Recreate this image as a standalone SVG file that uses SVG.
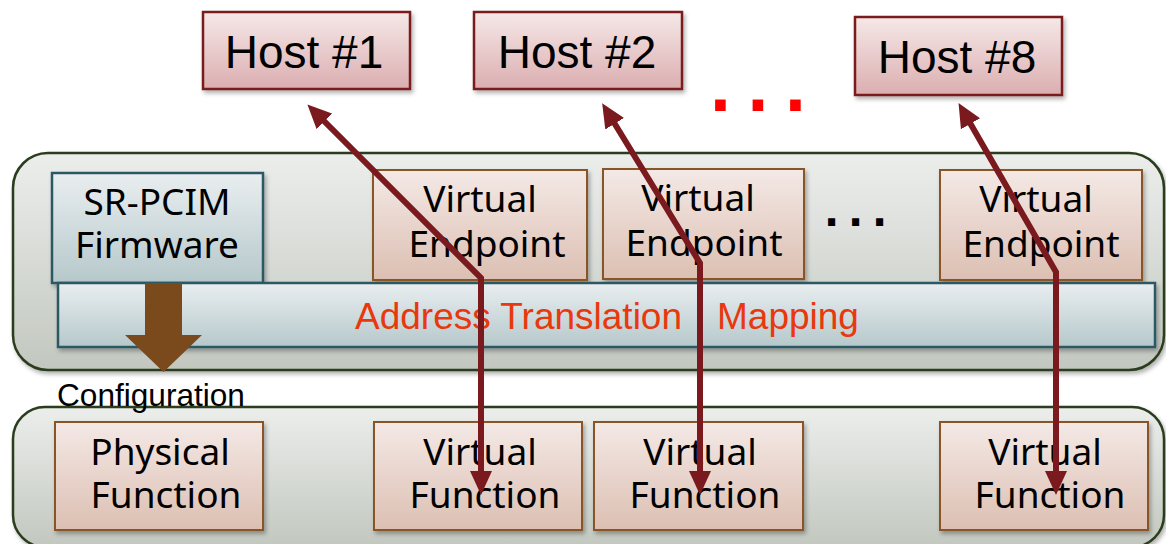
<svg xmlns="http://www.w3.org/2000/svg" width="1166" height="544" viewBox="0 0 1166 544">
<defs>
<linearGradient id="gHost" x1="0" y1="0" x2="0" y2="1"><stop offset="0" stop-color="#f6e8e8"/><stop offset="1" stop-color="#dbaeb0"/></linearGradient>
<linearGradient id="gFn" x1="0" y1="0" x2="0" y2="1"><stop offset="0" stop-color="#f4e9e6"/><stop offset="1" stop-color="#dcbfb2"/></linearGradient>
<linearGradient id="gCont" x1="0" y1="0" x2="0" y2="1"><stop offset="0" stop-color="#eceeec"/><stop offset="1" stop-color="#c2c7bf"/></linearGradient>
<linearGradient id="gBlue" x1="0" y1="0" x2="0" y2="1"><stop offset="0" stop-color="#e9eef0"/><stop offset="1" stop-color="#b6c8cb"/></linearGradient>
<filter id="sh" x="-10%" y="-10%" width="120%" height="130%"><feDropShadow dx="2" dy="3" stdDeviation="2" flood-color="#000" flood-opacity="0.3"/></filter>
<marker id="ah" markerUnits="userSpaceOnUse" markerWidth="24" markerHeight="24" viewBox="0 0 24 24" refX="9" refY="12" orient="auto-start-reverse"><path d="M0,1 L24,12 L0,23 z" fill="#7b1a1e"/></marker>
</defs>
<style>
.host rect{fill:url(#gHost);stroke:#7a1a1e;stroke-width:2.5;filter:url(#sh)}
.host text{font-family:"Liberation Sans",Arial,sans-serif;font-size:46px;fill:#000;text-anchor:middle}
.fn rect{fill:url(#gFn);stroke:#8a5526;stroke-width:2;filter:url(#sh)}
.fn text,.fw text{font-family:"Noto Sans","DejaVu Sans",sans-serif;font-size:37px;fill:#000;text-anchor:middle}
.cont{fill:url(#gCont);stroke:#2b3d1e;stroke-width:2.5;filter:url(#sh)}
.blue{fill:url(#gBlue);stroke:#2c5864;stroke-width:2.5;filter:url(#sh)}
.conn path{fill:none;stroke:#7b1a1e;stroke-width:6;marker-start:url(#ah);marker-end:url(#ah)}
.arial{font-family:"Liberation Sans",Arial,sans-serif}
</style>

<!-- containers -->
<rect class="cont" x="13" y="153" width="1151" height="217" rx="35"/>
<rect class="cont" x="13" y="407" width="1151" height="140" rx="32"/>

<!-- Hosts -->
<g id="host1" class="host"><rect x="203" y="12" width="207" height="77"/><text x="304" y="68">Host #1</text></g>
<g id="host2" class="host"><rect x="474" y="12" width="208" height="77"/><text x="577" y="68">Host #2</text></g>
<g id="host8" class="host"><rect x="855" y="17" width="207" height="78"/><text x="957" y="73">Host #8</text></g>
<text id="dotsRed" x="709" y="111" font-family="DejaVu Sans" font-weight="bold" font-size="60" letter-spacing="14.7" fill="#ff0000">...</text>

<!-- SR-PCIM -->
<g id="srpcim" class="fw"><rect class="blue" x="52" y="173" width="211" height="110"/><text x="157" y="215">SR-PCIM</text><text x="157" y="258">Firmware</text></g>

<!-- Virtual endpoints -->
<g id="ve1" class="fn"><rect x="373" y="170" width="214" height="110"/><text x="480" y="212">Virtual</text><text x="487" y="257">Endpoint</text></g>
<g id="ve2" class="fn"><rect x="603" y="169" width="201" height="110"/><text x="698" y="211">Virtual</text><text x="704" y="256">Endpoint</text></g>
<g id="ve8" class="fn"><rect x="940" y="170" width="202" height="110"/><text x="1036" y="212">Virtual</text><text x="1041" y="257">Endpoint</text></g>
<text id="dotsBlack" x="824" y="226" font-family="DejaVu Sans" font-weight="bold" font-size="40" letter-spacing="8.8" fill="#000">...</text>

<!-- Address translation -->
<g id="atm"><rect class="blue" x="58" y="283" width="1097" height="64"/>
<text y="329" class="arial" font-size="37" fill="#e8380d"><tspan x="355">Address Translation</tspan><tspan x="717">Mapping</tspan></text></g>

<!-- config arrow -->
<g id="configArrow"><polygon points="145,283 182,283 182,335 202,335 163.5,372 125,335 145,335" fill="#7b4a1c"/></g>
<text id="configLabel" x="57" y="406" class="arial" font-size="31.6" fill="#000">Configuration</text>

<!-- Functions -->
<g id="pf" class="fn"><rect x="55" y="422" width="208" height="108"/><text x="160" y="465">Physical</text><text x="166" y="508">Function</text></g>
<g id="vf1" class="fn"><rect x="374" y="422" width="208" height="108"/><text x="480" y="465">Virtual</text><text x="485" y="508">Function</text></g>
<g id="vf2" class="fn"><rect x="594" y="422" width="209" height="108"/><text x="700" y="465">Virtual</text><text x="705" y="508">Function</text></g>
<g id="vf8" class="fn"><rect x="940" y="422" width="208" height="108"/><text x="1045" y="465">Virtual</text><text x="1050" y="508">Function</text></g>

<!-- connectors -->
<g id="connectors" class="conn">
<path d="M318,115 L481,278 L481,480"/>
<path d="M610,116 L700,263 L700,480"/>
<path d="M966,116 L1056,272 L1056,480"/>
</g>
</svg>
